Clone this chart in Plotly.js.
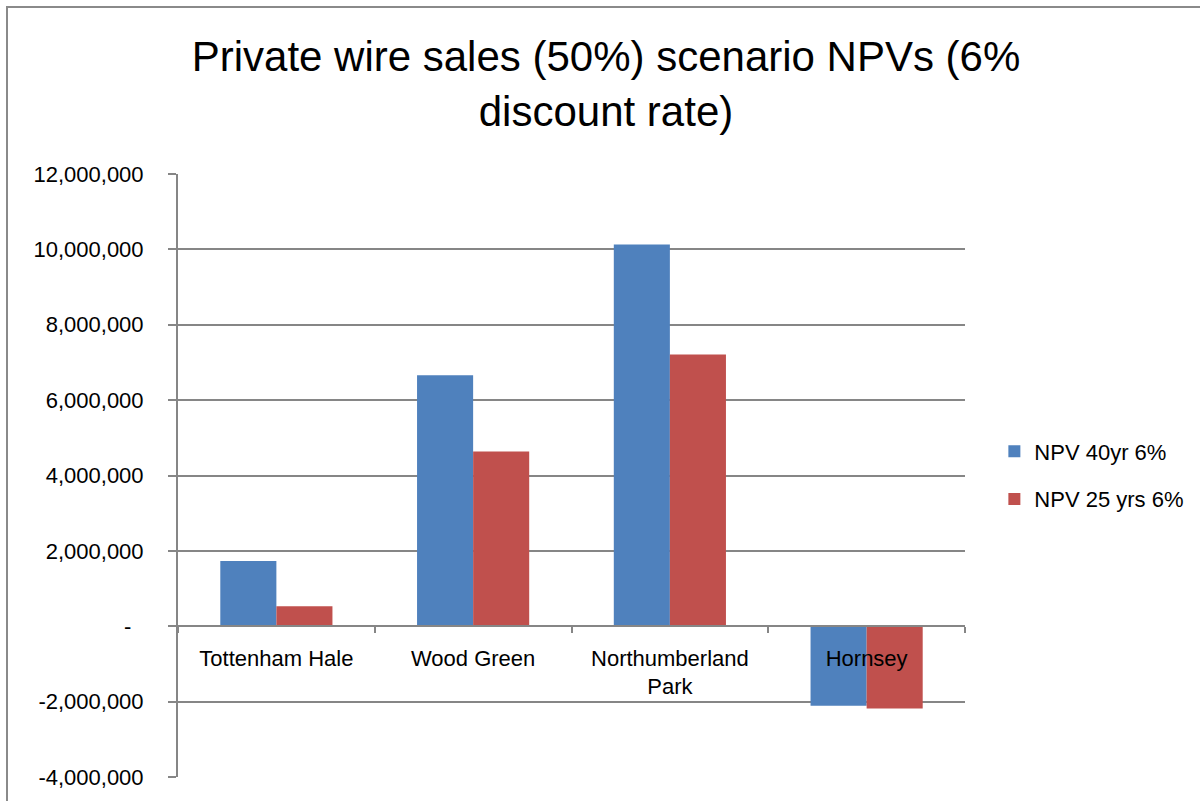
<!DOCTYPE html>
<html>
<head>
<meta charset="utf-8">
<script src="https://cdn.plot.ly/plotly-3.0.1.min.js"></script>
<style>
  html, body { margin: 0; padding: 0; background: #fff; }
  #chart { width: 1200px; height: 801px; position: absolute; left: 0; top: 0; }
  #frame { position: absolute; left: 6px; top: 6px; width: 1300px; height: 900px;
           border: 2px solid #8a8a8a; pointer-events: none; box-sizing: border-box; }
</style>
</head>
<body>
<div id="chart"></div>
<div id="frame"></div>
<script>
const categories = ["Tottenham Hale", "Wood Green", "Northumberland<br>Park", "Hornsey"];
const npv40 = [1730000, 6660000, 10130000, -2110000];
const npv25 = [530000, 4640000, 7210000, -2180000];
const seriesNames = ["NPV 40yr 6%", "NPV 25 yrs 6%"];
const yTickVals = [-4000000, -2000000, 0, 2000000, 4000000, 6000000, 8000000, 10000000, 12000000];
const yTickText = ["-4,000,000", "-2,000,000", "-\u00a0\u00a0", "2,000,000", "4,000,000", "6,000,000", "8,000,000", "10,000,000", "12,000,000"];

const FONT = "Liberation Sans, Arial, sans-serif";

const traces = [
  { type: "bar", x: categories, y: npv40, name: seriesNames[0], legendgroup: "a",
    marker: { color: "#4F81BD" } },
  { type: "bar", x: categories, y: npv25, name: seriesNames[1], legendgroup: "b",
    marker: { color: "#C0504D" } }
];

const layout = {
  width: 1200, height: 801,
  paper_bgcolor: "#fff", plot_bgcolor: "#fff",
  margin: { l: 178, r: 234, t: 174, b: 24 },
  font: { family: FONT, size: 22, color: "#000" },
  title: {
    text: "Private wire sales (50%) scenario NPVs (6%<br>discount rate)",
    font: { family: FONT, size: 42, color: "#000" },
    x: 0.505, xref: "container", xanchor: "center",
    y: 0.911, yref: "container", yanchor: "middle"
  },
  barmode: "group", bargap: 0.43, bargroupgap: 0,
  xaxis: {
    type: "category",
    anchor: "free", position: 0.25,
    showline: true, linecolor: "#868686", linewidth: 2,
    ticks: "outside", tickson: "boundaries", ticklen: 6, tickcolor: "#868686", tickwidth: 2,
    ticklabelstandoff: 12,
    showgrid: false, zeroline: false,
    tickfont: { family: FONT, size: 22, color: "#000" }
  },
  yaxis: {
    range: [-4000000, 12000000],
    tickvals: yTickVals, ticktext: yTickText,
    showline: true, linecolor: "#868686", linewidth: 2,
    ticks: "outside", ticklen: 8, tickcolor: "#868686", tickwidth: 2,
    showgrid: true, gridcolor: "#868686", gridwidth: 2,
    zeroline: false,
    ticklabelstandoff: 20,
    tickfont: { family: FONT, size: 22, color: "#000" }
  },
  legend: {
    x: 1.036, xanchor: "left", y: 0.5, yanchor: "middle",
    font: { family: FONT, size: 22, color: "#000" },
    tracegroupgap: 16, bgcolor: "rgba(0,0,0,0)"
  },
  showlegend: true
};

Plotly.newPlot("chart", traces, layout, { displayModeBar: false, staticPlot: true });
</script>
</body>
</html>
